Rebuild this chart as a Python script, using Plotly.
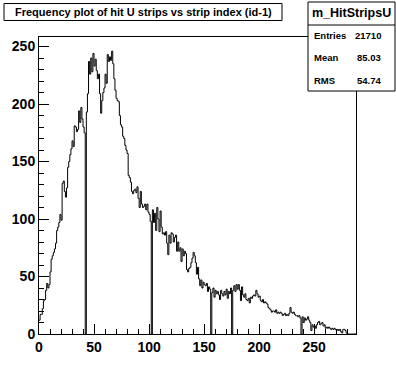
import plotly.graph_objects as go

# Histogram m_HitStripsU: 288 bins from 0 to 288
x_min = 0
x_max = 288
counts = [
    12, 17, 17, 22, 29, 30, 38, 44, 40, 43,
    54, 65, 68, 71, 74, 79, 90, 93, 97, 104,
    99, 131, 133, 124, 119, 127, 145, 150, 156, 161,
    168, 163, 181, 180, 176, 178, 194, 184, 197, 187,
    180, 175, 0, 193, 209, 237, 226, 240, 228, 244,
    233, 239, 229, 222, 226, 209, 192, 203, 210, 214,
    226, 218, 243, 237, 241, 238, 246, 235, 222, 212,
    205, 203, 202, 190, 182, 180, 172, 170, 164, 160,
    157, 138, 136, 132, 124, 122, 125, 126, 123, 128,
    118, 110, 124, 113, 110, 111, 113, 108, 113, 106,
    104, 98, 0, 108, 97, 105, 90, 110, 100, 89,
    107, 93, 87, 88, 86, 89, 79, 69, 86, 79,
    88, 87, 80, 84, 86, 72, 80, 72, 75, 63,
    74, 68, 72, 70, 56, 54, 57, 58, 62, 66,
    71, 68, 62, 52, 58, 48, 42, 47, 40, 45,
    43, 42, 44, 37, 41, 39, 0, 36, 40, 32,
    38, 35, 37, 34, 30, 38, 35, 33, 37, 34,
    39, 31, 37, 35, 40, 0, 38, 42, 37, 43,
    39, 43, 38, 29, 41, 34, 32, 35, 30, 29,
    31, 27, 32, 31, 33, 34, 33, 38, 35, 32,
    33, 29, 28, 30, 27, 28, 27, 26, 23, 22,
    21, 19, 20, 20, 19, 21, 18, 19, 18, 19,
    18, 16, 17, 18, 16, 17, 16, 18, 23, 19,
    18, 19, 17, 16, 16, 15, 16, 14, 0, 15,
    10, 14, 12, 13, 15, 12, 10, 3, 8, 6,
    7, 5, 8, 10, 11, 8, 9, 10, 7, 8,
    5, 6, 5, 6, 5, 4, 5, 4, 5, 4,
    3, 4, 3, 4, 2, 1, 4, 4, 3, 1,
    0, 0, 0, 0, 0, 0, 0, 0,
]
x_ticks = [0, 50, 100, 150, 200, 250]
y_ticks = [0, 50, 100, 150, 200, 250]
title_text = "Frequency plot of hit U strips vs strip index (id-1)"
stats_name = "m_HitStripsU"
stats_labels = ["Entries", "Mean", "RMS"]
stats_values = ["21710", "85.03", "54.74"]

nbins = len(counts)
bw = (x_max - x_min) / nbins
edges = [x_min + i * bw for i in range(nbins + 1)]
ys = counts + [counts[-1]]
y_max = max(counts) * 1.05

W, H = 396, 372
L, R, T, B = 39, 40, 37, 38
pw, ph = W - L - R, H - T - B


def px(x):
    return (x - L) / pw


def py(y):
    return (H - B - y) / ph


fig = go.Figure()
fig.add_trace(go.Scatter(
    x=edges, y=ys, mode="lines", line=dict(shape="hv", color="black", width=1),
    hoverinfo="skip", showlegend=False,
))

FONT = "Liberation Sans, Arial, sans-serif"
axis_common = dict(
    showgrid=False, zeroline=False, showline=True, linecolor="black", linewidth=1,
    mirror=True, ticks="inside", ticklen=10, tickwidth=1, tickcolor="black",
    tickfont=dict(family=FONT, size=14, color="black", weight="bold"),
)
fig.update_xaxes(range=[x_min, x_max], tickvals=x_ticks,
                 minor=dict(dtick=10, tick0=0, ticks="inside", ticklen=5, tickcolor="black", tickwidth=1),
                 **axis_common)
fig.update_yaxes(range=[0, y_max], tickvals=y_ticks,
                 minor=dict(dtick=10, tick0=0, ticks="inside", ticklen=5, tickcolor="black", tickwidth=1),
                 **axis_common)

shapes = [
    dict(type="rect", xref="paper", yref="paper", x0=px(4), x1=px(282), y0=py(3.5), y1=py(20.5),
         line=dict(color="black", width=1), fillcolor="white", layer="above"),
    dict(type="rect", xref="paper", yref="paper", x0=px(308), x1=px(395), y0=py(2), y1=py(91),
         line=dict(color="black", width=1), fillcolor="white", layer="above"),
    dict(type="line", xref="paper", yref="paper", x0=px(308), x1=px(395), y0=py(25), y1=py(25),
         line=dict(color="black", width=1), layer="above"),
]

ann = [
    dict(text=title_text, x=px(143), y=py(12), xanchor="center", yanchor="middle",
         font=dict(family=FONT, size=11, color="black", weight="bold")),
    dict(text=stats_name, x=px(351.5), y=py(13.5), xanchor="center", yanchor="middle",
         font=dict(family=FONT, size=12.5, color="black", weight="bold")),
]
for i, (lab, val) in enumerate(zip(stats_labels, stats_values)):
    yy = 35 + i * 22.5
    ann.append(dict(text=lab, x=px(312), y=py(yy), xanchor="left", yanchor="middle",
                    font=dict(family=FONT, size=9.5, color="black", weight="bold")))
    ann.append(dict(text=val, x=px(383), y=py(yy), xanchor="right", yanchor="middle",
                    font=dict(family=FONT, size=9.5, color="black", weight="bold")))
for a in ann:
    a.update(xref="paper", yref="paper", showarrow=False)

fig.update_layout(
    width=W, height=H, margin=dict(l=L, r=R, t=T, b=B, pad=0),
    paper_bgcolor="white", plot_bgcolor="white",
    shapes=shapes, annotations=ann, showlegend=False,
)
fig.write_html(
    "out.html",
    config={"displayModeBar": False},
    post_script="document.body.style.margin='0px';document.body.style.overflow='hidden';",
)
